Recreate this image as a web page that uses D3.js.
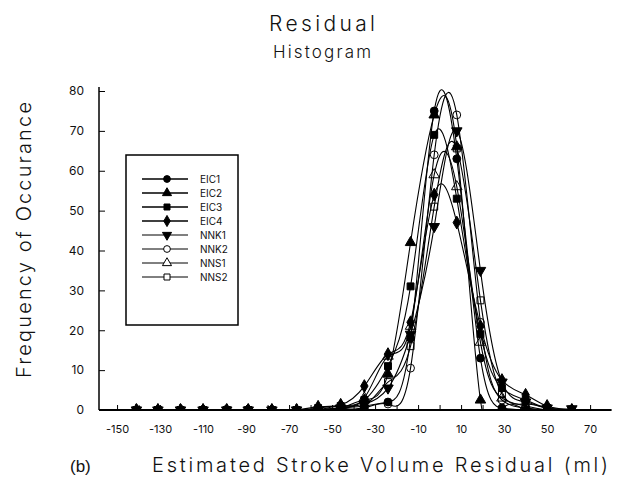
<!DOCTYPE html>
<html>
<head>
<meta charset="utf-8">
<script src="https://cdn.jsdelivr.net/npm/d3@7"></script>
<style>
  body { margin: 0; background: #fff; }
  text { font-family: Inter, "DejaVu Sans", sans-serif; font-weight: 300; fill: #111; }
</style>
</head>
<body>
<svg id="chart" width="621" height="479"></svg>
<script>
// bin positions (ml)
var xs = [-141, -131, -120.5, -110, -99, -89, -78, -66.5, -56.5, -46, -35, -24, -13.5, -2.5, 8, 19, 29, 40, 50, 61.5];

var eic1 = [0, 0, 0, 0, 0, 0, 0, 0, 0, 0.5, 1, 2, 18, 75, 63, 13, 0.5, 0, 0, 0];
var eic2 = [0, 0, 0, 0, 0, 0, 0, 0, 0, 0.5, 2.5, 9, 42, 74, 66, 2.5, 0, 0, 0, 0];
var eic3 = [0, 0, 0, 0, 0, 0, 0, 0, 0.5, 1, 2.5, 11, 31, 69, 53, 19, 5.5, 2.5, 0.5, 0];
var eic4 = [0, 0, 0, 0, 0, 0, 0, 0, 0.8, 1.3, 6, 14, 22, 54, 47, 21, 7.5, 3.8, 1, 0];
var nnk1 = [0, 0, 0, 0, 0, 0, 0, 0, 0, 0.5, 1.5, 5.5, 19, 46, 70, 35, 7, 2, 0.5, 0.3];
var nnk2 = [0, 0, 0, 0, 0, 0, 0, 0, 0, 0, 0.5, 1.5, 10.5, 64, 74, 22, 2.5, 0.5, 0, 0];
var nns1 = [0, 0, 0, 0, 0, 0, 0, 0, 0, 1, 3, 13.5, 21, 59, 56, 17, 3, 1, 0, 0];
var nns2 = [0, 0, 0, 0, 0, 0, 0, 0, 0, 0.5, 1, 7, 16, 51, 65.6, 27.5, 4, 1.5, 0.5, 0];

var names = ["EIC1", "EIC2", "EIC3", "EIC4", "NNK1", "NNK2", "NNS1", "NNS2"];
var values = [eic1, eic2, eic3, eic4, nnk1, nnk2, nns1, nns2];

var xLabels = [-150, -130, -110, -90, -70, -50, -30, -10, 10, 30, 50, 70];
var xMinor = [-150, -140, -130, -120, -110, -100, -90, -80, -70, -60, -50, -40, -30, -20, -10, 0, 10, 20, 30, 40, 50, 60, 70];
var yLabels = [0, 10, 20, 30, 40, 50, 60, 70, 80];
var yMinor = [5, 15, 25, 35, 45, 55, 65, 75];

// marker per series: [symbol, filled, rotate]
var markers = [
  [d3.symbolCircle, true, 0],
  [d3.symbolTriangle, true, 0],
  [d3.symbolSquare, true, 0],
  [d3.symbolDiamond, true, 0],
  [d3.symbolTriangle, true, 180],
  [d3.symbolCircle, false, 0],
  [d3.symbolTriangle, false, 0],
  [d3.symbolSquare, false, 0]
];

var svg = d3.select("#chart");

var x = d3.scaleLinear().domain([-158.4, 80]).range([99, 611.6]);
var y = d3.scaleLinear().domain([0, 80]).range([410, 91]);

// titles (stretched to the widths seen in the scan)
svg.append("text").attr("x", 322).attr("y", 31).attr("text-anchor", "middle")
  .attr("textLength", 106).attr("lengthAdjust", "spacing")
  .style("font-size", "21px").text("Residual");
svg.append("text").attr("x", 322).attr("y", 58).attr("text-anchor", "middle")
  .attr("textLength", 98).attr("lengthAdjust", "spacing")
  .style("font-size", "17px").text("Histogram");

svg.append("text").attr("transform", "translate(31,240) rotate(-90)")
  .attr("text-anchor", "middle")
  .attr("textLength", 276).attr("lengthAdjust", "spacing")
  .style("font-size", "20px")
  .text("Frequency of Occurance");

svg.append("text").attr("x", 380).attr("y", 472).attr("text-anchor", "middle")
  .attr("textLength", 456).attr("lengthAdjust", "spacing")
  .style("font-size", "20px")
  .text("Estimated Stroke Volume Residual (ml)");

svg.append("text").attr("x", 70).attr("y", 472)
  .style("font-family", "'Liberation Sans', Arial, sans-serif").style("font-weight", "400")
  .style("font-size", "17px")
  .text("(b)");

// axes
var gx = svg.append("g").attr("transform", "translate(0," + y(0) + ")");
gx.append("line").attr("x1", x(-158.4)).attr("x2", x(80)).attr("stroke", "#000").attr("stroke-width", 2);
gx.call(d3.axisBottom(x).tickValues(xMinor).tickSizeInner(-5).tickSizeOuter(0).tickFormat(""))
  .select(".domain").remove();
var gxl = svg.append("g").attr("transform", "translate(0," + (y(0) + 12) + ")")
  .call(d3.axisBottom(x).tickValues(xLabels).tickSize(0).tickFormat(function(d) { return d < 0 ? "-" + (-d) : d; }));
gxl.select(".domain").remove();
gxl.selectAll("text")
  .style("font-size", "11px").style("font-family", "Inter, 'DejaVu Sans', sans-serif").style("font-weight", "400");

var gy = svg.append("g").attr("transform", "translate(" + x(-158.4) + ",0)");
gy.append("line").attr("y1", y(81)).attr("y2", y(0)).attr("stroke", "#000").attr("stroke-width", 1.5);
gy.call(d3.axisRight(y).tickValues(yMinor).tickSize(3).tickFormat(""))
  .select(".domain").remove();
gy.call(d3.axisRight(y).tickValues(yLabels).tickSize(6).tickFormat(""))
  .select(".domain").remove();
var gyl = svg.append("g").attr("transform", "translate(" + (x(-158.4) - 12) + ",0)")
  .call(d3.axisLeft(y).tickValues(yLabels).tickSize(0));
gyl.select(".domain").remove();
gyl.selectAll("text")
  .style("font-size", "12px").style("font-family", "Inter, 'DejaVu Sans', sans-serif").style("font-weight", "400");

// plot area clip
svg.append("clipPath").attr("id", "plot").append("rect")
  .attr("x", x(-158.4)).attr("y", y(85)).attr("width", x(80) - x(-158.4)).attr("height", y(0) - y(85));

var plot = svg.append("g").attr("clip-path", "url(#plot)");

var line = d3.line()
  .x(function(d, i) { return x(xs[i]); })
  .y(function(d) { return y(d); })
  .curve(d3.curveNatural);

plot.selectAll(".series")
  .data(values)
  .enter().append("path")
    .attr("class", "series")
    .attr("d", line)
    .attr("fill", "none")
    .attr("stroke", "#000")
    .attr("stroke-width", 1.1);

function sym(k, size) {
  return d3.symbol().type(markers[k][0]).size(size)();
}

// open markers first, filled ones on top
[7, 6, 5, 4, 3, 2, 1, 0].forEach(function(k) {
  plot.selectAll(".m" + k)
    .data(values[k])
    .enter().append("path")
      .attr("class", "m" + k)
      .attr("d", sym(k, 48))
      .attr("transform", function(d, i) {
        return "translate(" + x(xs[i]) + "," + y(d) + ") rotate(" + markers[k][2] + ")";
      })
      .attr("fill", markers[k][1] ? "#000" : "none")
      .attr("stroke", "#000")
      .attr("stroke-width", 1);
});

// legend
var lg = svg.append("g").attr("transform", "translate(126,155)");
lg.append("rect").attr("width", 112).attr("height", 170)
  .attr("fill", "#fff").attr("stroke", "#000").attr("stroke-width", 1.5);

var item = lg.selectAll(".legend")
  .data(names)
  .enter().append("g")
    .attr("class", "legend")
    .attr("transform", function(d, i) { return "translate(0," + (24 + i * 14) + ")"; });

item.append("line").attr("x1", 16).attr("x2", 62).attr("stroke", "#000")
  .attr("stroke-width", function(d, i) { return i < 4 ? 1.4 : 1; });
item.append("path")
  .attr("d", function(d, i) { return sym(i, 36); })
  .attr("transform", function(d, i) { return "translate(41,0) rotate(" + markers[i][2] + ")"; })
  .attr("fill", function(d, i) { return markers[i][1] ? "#000" : "#fff"; })
  .attr("stroke", "#000");
item.append("text").attr("x", 74).attr("dy", "0.35em")
  .style("font-size", "10px").style("font-weight", "400")
  .text(function(d) { return d; });
</script>
</body>
</html>
